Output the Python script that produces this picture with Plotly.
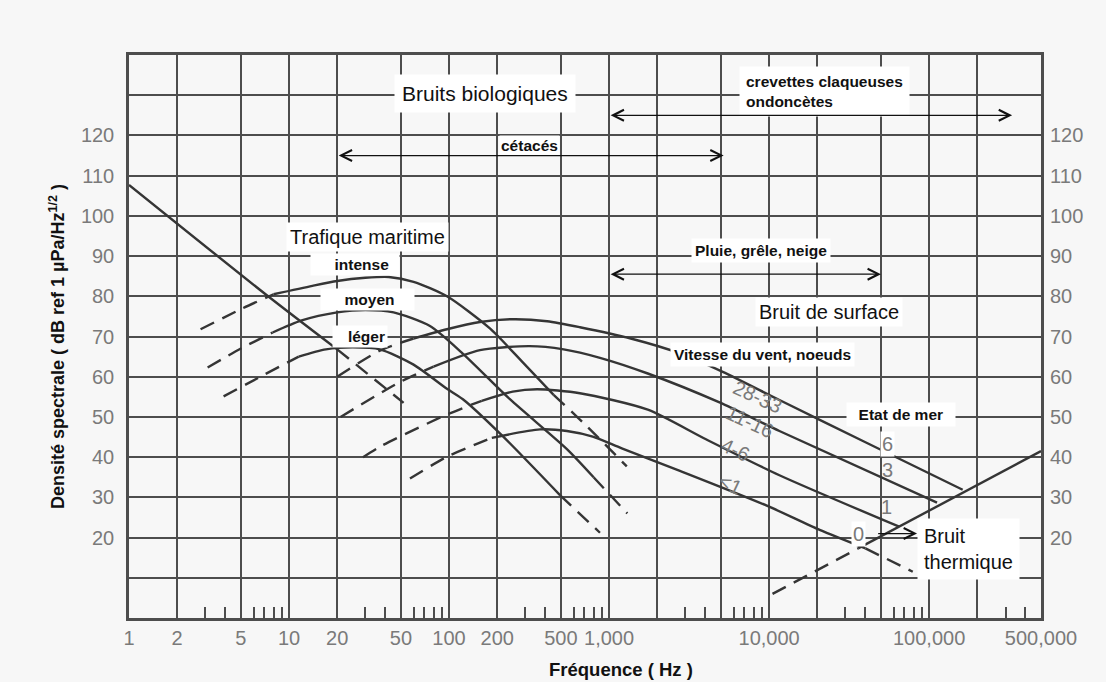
import math
import plotly.graph_objects as go

# ---------------- data (frequency in Hz, level in dB) ----------------
# low-frequency turbulence line
turb_f = [1, 7.4, 20]
turb_db = [107.7, 80, 66.8]
turb_tail_f = [20, 52]
turb_tail_db = [66.8, 53.5]

# shipping traffic: intense / moyen / léger
intense_rise_f = [2.8, 5, 8]
intense_rise_db = [71.8, 76.8, 80.5]
intense_f = [8, 14, 20, 30, 42, 60, 97, 180, 290, 450]
intense_db = [80.5, 82.6, 83.8, 84.6, 84.8, 83.6, 80, 72, 63.5, 55.5]
intense_tail_f = [450, 730, 1290]
intense_tail_db = [55.5, 47.6, 37.7]

moyen_rise_f = [3.1, 5, 7.9]
moyen_rise_db = [62.3, 67, 71]
moyen_f = [7.9, 12, 20, 30, 45, 76, 120, 240, 545, 800]
moyen_db = [71, 74, 76, 76.6, 76, 72.6, 66, 54.4, 42, 35]
moyen_tail_f = [800, 1300]
moyen_tail_db = [35, 26]

leger_rise_f = [3.9, 7, 11.5]
leger_rise_db = [55.1, 60.5, 65]
leger_f = [11.5, 17, 25, 37, 60, 97, 122, 218, 495]
leger_db = [65, 66.8, 67.3, 66.8, 63, 57, 54.4, 45.1, 30.5]
leger_tail_f = [495, 877]
leger_tail_db = [30.5, 21.2]

# wind-driven surface noise (wind speed in knots / sea state)
w2833_rise_f = [20, 37, 60]
w2833_rise_db = [60, 66.5, 69.5]
w2833_f = [60, 97, 156, 250, 410, 657, 1365, 2770, 5130, 11600, 40000, 162000]
w2833_db = [69.5, 71.8, 73.6, 74.3, 73.8, 72.3, 69.5, 65.8, 61.2, 54.2, 43.7, 31.9]

w1116_rise_f = [21, 49, 80]
w1116_rise_db = [50, 58.6, 62.5]
w1116_f = [80, 156, 318, 520, 877, 1745, 4900, 11600, 112000]
w1116_db = [62.5, 66.6, 67.6, 66.8, 64.7, 60.8, 53.6, 46.5, 28.7]

w46_rise_f = [29, 37, 97, 160]
w46_rise_db = [40, 42.6, 50.6, 54]
w46_f = [160, 250, 355, 657, 1745, 4000, 11600, 65000]
w46_db = [54, 56.3, 56.9, 55.9, 51.8, 44.5, 35.5, 22.7]

w1_rise_f = [57, 97, 156, 185]
w1_rise_db = [34.7, 40.1, 43.6, 44.8]
w1_f = [185, 370, 545, 790, 1200, 2770, 9600, 20700, 40000]
w1_db = [44.8, 46.9, 46.5, 45.1, 42.2, 36.6, 28, 21.9, 17.3]
w1_tail_f = [40000, 79000]
w1_tail_db = [17.3, 11.5]

# thermal noise
therm_low_f = [10500, 36000]
therm_low_db = [6, 17.3]
therm_f = [36000, 500000]
therm_db = [17.3, 41.5]

# axis ticks
x_grid = [1, 2, 5, 10, 20, 50, 100, 200, 500, 1000, 2000, 5000,
          10000, 20000, 50000, 100000, 200000, 500000]
x_text = ["1", "2", "5", "10", "20", "50", "100", "200", "500", "1,000", "", "",
          "10,000", "", "", "100,000", "", "500,000"]
x_minor = [m * 10 ** d for d in range(0, 6) for m in (3, 4, 6, 7, 8, 9)
           if m * 10 ** d < 500000]
y_grid = list(range(0, 141, 10))
y_text = [str(v) if 20 <= v <= 120 else "" for v in y_grid]
y_right = list(range(20, 121, 10))

# ---------------- styling ----------------
INK = "#353535"
GRID = "#4d4d4d"
BG = "#f7f7f7"
BOX = "#ffffff"
GRAYTXT = "#7a7a7a"
SANS = "Liberation Sans, Arial, sans-serif"
LW = 2.4
DASH = "15px,9px"

fig = go.Figure()


def curve(f, db, dashed=False, yaxis="y"):
    fig.add_trace(go.Scatter(
        x=f, y=db, mode="lines", yaxis=yaxis, hoverinfo="skip",
        line=dict(color=INK, width=LW, shape="spline", smoothing=0.7,
                  dash=DASH if dashed else "solid"),
        showlegend=False))


curve(turb_f, turb_db)
curve(turb_tail_f, turb_tail_db, True)

for rf, rd, sf, sd, tf, td in [
        (intense_rise_f, intense_rise_db, intense_f, intense_db, intense_tail_f, intense_tail_db),
        (moyen_rise_f, moyen_rise_db, moyen_f, moyen_db, moyen_tail_f, moyen_tail_db),
        (leger_rise_f, leger_rise_db, leger_f, leger_db, leger_tail_f, leger_tail_db)]:
    curve(rf, rd, True)
    curve(sf, sd)
    curve(tf, td, True)

for rf, rd, sf, sd in [(w2833_rise_f, w2833_rise_db, w2833_f, w2833_db),
                       (w1116_rise_f, w1116_rise_db, w1116_f, w1116_db),
                       (w46_rise_f, w46_rise_db, w46_f, w46_db),
                       (w1_rise_f, w1_rise_db, w1_f, w1_db)]:
    curve(rf, rd, True)
    curve(sf, sd)
curve(w1_tail_f, w1_tail_db, True)

curve(therm_low_f, therm_low_db, True)
curve(therm_f, therm_db, yaxis="y2")


def lx(f):
    return math.log10(f)


ann = []


def label(text, f, db, size=15.5, bold=True, box=True, pad=3, color="#111",
          xanchor="center", align="center", angle=0):
    ann.append(dict(
        x=lx(f), y=db, xref="x", yref="y", text=text, showarrow=False,
        xanchor=xanchor, yanchor="middle", align=align, textangle=angle,
        font=dict(family=SANS, size=size, color=color,
                  weight="bold" if bold else "normal"),
        bgcolor=BOX if box else None, borderpad=pad))


NB = "\u00a0"
label("Bruits biologiques", 168, 130.4, size=21, bold=False, pad=7)
label("crevettes claqueuses<br>ondoncètes", 6470, 131, xanchor="left",
      align="left", pad=6)
label("cétacés", 320, 117.4, pad=1)
label("Pluie, grêle, neige", 8850, 91.3, pad=3)
label("Trafique maritime", 31, 94.8, size=20, bold=False, pad=3)
label(NB * 5 + "intense" + NB * 2, 30.6 * 0.84, 87.8, pad=2)
label(NB * 5 + "moyen" + NB * 4, 33.4 * 0.93, 79.3, pad=2)
label(NB * 3 + "léger", 29.8 * 0.93, 70.1, pad=2)
label("Bruit de surface", 23700, 76.1, size=20, bold=False, pad=3)
label("Vitesse du vent, noeuds", 9100, 65.6, pad=3)
label(NB * 2 + "Etat de mer" + NB * 2, 67000, 50.7, pad=3)
label("Bruit<br>thermique", 84000, 17.1, size=20, bold=False, pad=6,
      xanchor="left", align="left")

for txt, f, db in [("28-33", 8500, 55.0), ("11-16", 7600, 48.8),
                   ("4-6", 6200, 41.8), ("<1", 5700, 33.2)]:
    label(txt, f, db, size=20, bold=False, box=False, color=GRAYTXT, angle=25)

label("6", 55000, 43.2, size=20, bold=False, pad=1, color=GRAYTXT)
label("3", 55000, 36.8, size=20, bold=False, box=False, color=GRAYTXT)
label("1", 54000, 27.5, size=20, bold=False, box=False, color=GRAYTXT)
label("0", 36000, 20.8, size=20, bold=False, pad=1, color=GRAYTXT)


def arrow(f0, f1, db, both=True):
    ann.append(dict(
        x=lx(f1), y=db, ax=lx(f0), ay=db, xref="x", yref="y", axref="x", ayref="y",
        text="", showarrow=True, arrowhead=5, startarrowhead=5,
        arrowside="end+start" if both else "end", arrowwidth=1.2, arrowsize=1.8,
        arrowcolor="#111", standoff=0, startstandoff=0))


arrow(1000, 330000, 125)
arrow(20, 5200, 115)
arrow(1000, 50000, 85.5)
arrow(47000, 84000, 21, both=False)

# axis titles
ann.append(dict(x=-0.079, y=0.483, xref="paper", yref="paper", showarrow=False,
                xanchor="center", yanchor="middle",
                text="Densité spectrale ( dB ref 1 µPa/Hz<sup>1/2</sup> )",
                textangle=-90,
                font=dict(family=SANS, size=18, color="#111", weight="bold")))
ann.append(dict(x=0.539, y=-0.092, xref="paper", yref="paper", showarrow=False,
                xanchor="center", yanchor="middle",
                text="Fréquence ( Hz )",
                font=dict(family=SANS, size=18.5, color="#111", weight="bold")))

fig.update_layout(
    width=1106, height=682,
    margin=dict(l=129, r=65, t=55, b=64),
    paper_bgcolor=BG, plot_bgcolor=BG,
    annotations=ann,
    xaxis=dict(type="log", range=[0, lx(500000)], tickmode="array",
               tickvals=x_grid, ticktext=x_text, showgrid=True,
               gridcolor=GRID, gridwidth=2, showline=True, mirror=True,
               linecolor=GRID, linewidth=2.5, ticks="",
               tickfont=dict(family=SANS, size=20, color=GRAYTXT),
               minor=dict(tickmode="array", tickvals=x_minor, ticks="inside",
                          ticklen=11, tickwidth=1.5, tickcolor=GRID, showgrid=False),
               zeroline=False),
    yaxis=dict(range=[0, 140], tickmode="array", tickvals=y_grid, ticktext=y_text,
               showgrid=True, gridcolor=GRID, gridwidth=2, showline=True,
               mirror=True, linecolor=GRID, linewidth=2.5, ticks="outside",
               ticklen=8, tickcolor="rgba(0,0,0,0)", zeroline=False,
               tickfont=dict(family=SANS, size=20, color=GRAYTXT)),
    yaxis2=dict(range=[0, 140], overlaying="y", side="right", tickmode="array",
                tickvals=y_right, showgrid=False, zeroline=False, ticks="outside",
                ticklen=4, tickcolor="rgba(0,0,0,0)",
                tickfont=dict(family=SANS, size=20, color=GRAYTXT)),
)

fig.write_html("out.html")
